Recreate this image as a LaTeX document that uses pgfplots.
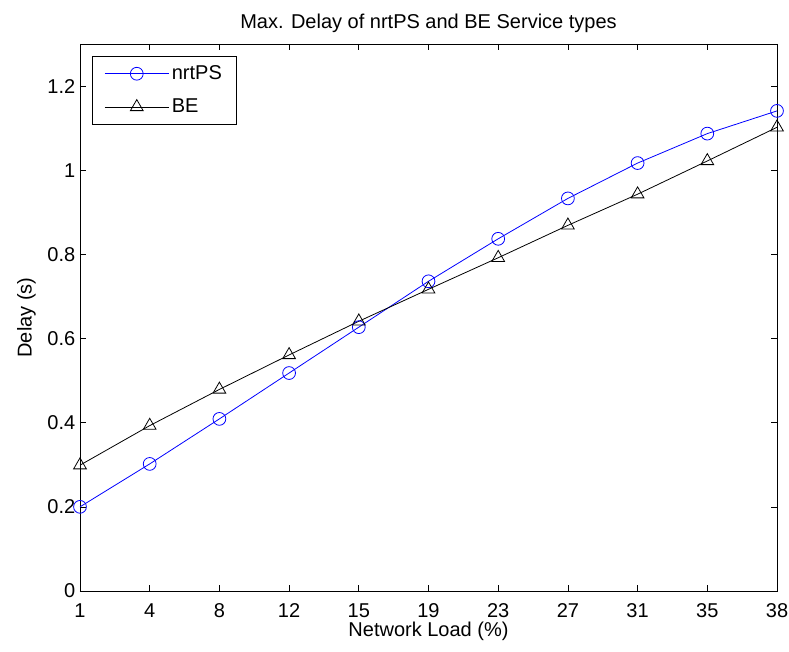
\documentclass[border=0pt]{standalone}
\usepackage{pgfplots}
\pgfplotsset{compat=1.18}
\usepackage{fontspec}
\setmainfont{Liberation Sans}
\usetikzlibrary{calc}
\begin{document}
\begin{tikzpicture}
\begin{axis}[name=ax,
  scale only axis, width=522.75pt, height=410.25pt,
  xmin=0, xmax=10, ymin=0, ymax=1.3,
  xtick={0,...,10},
  xticklabels={1,4,8,12,15,19,23,27,31,35,38},
  ytick={0,0.2,0.4,0.6,0.8,1,1.2},
  yticklabels={0,0.2,0.4,0.6,0.8,1,1.2},
  tick align=inside, tick pos=both, major tick length=4.5pt,
  axis line style={line width=0.6pt}, tick style={line width=0.5pt, black},
  font=\fontsize{15}{18}\selectfont,
  xticklabel style={yshift=-6pt},
  title={Max. Delay of nrtPS and BE Service types},
  title style={yshift=-1pt},
  xlabel={Network Load (\%)}, ylabel={Delay (s)},
  xlabel style={yshift=4pt},
  ylabel style={yshift=2pt},
  legend style={at={(0.0172,0.978)}, anchor=north west, draw=black, line width=0.6pt,
    font=\fontsize{15}{18}\selectfont, row sep=9pt, inner xsep=9pt, inner ysep=5pt},
  legend cell align=left,
  legend image code/.code={\draw[#1] (0pt,0pt) -- (24pt,0pt); \draw[#1,mark repeat=2,mark phase=2] plot coordinates {(0pt,0pt) (24pt,0pt) (48pt,0pt)};},
]
\addplot[blue, line width=0.6pt, mark=o, mark size=4.8pt, mark options={solid}] coordinates {
(0,0.200) (1,0.302) (2,0.409) (3,0.518) (4,0.627) (5,0.736) (6,0.837) (7,0.933) (8,1.017) (9,1.087) (10,1.141)};
\addlegendentry{nrtPS}
\addplot[black, line width=0.6pt, mark=triangle, mark size=5.5pt] coordinates {
(0,0.299) (1,0.393) (2,0.479) (3,0.561) (4,0.641) (5,0.717) (6,0.792) (7,0.869) (8,0.943) (9,1.022) (10,1.102)};
\addlegendentry{BE}
\end{axis}
\pgfresetboundingbox
\path ($(ax.south west)+(-60pt,-45.75pt)$) rectangle ($(ax.north east)+(9pt,33pt)$);
\end{tikzpicture}
\end{document}
